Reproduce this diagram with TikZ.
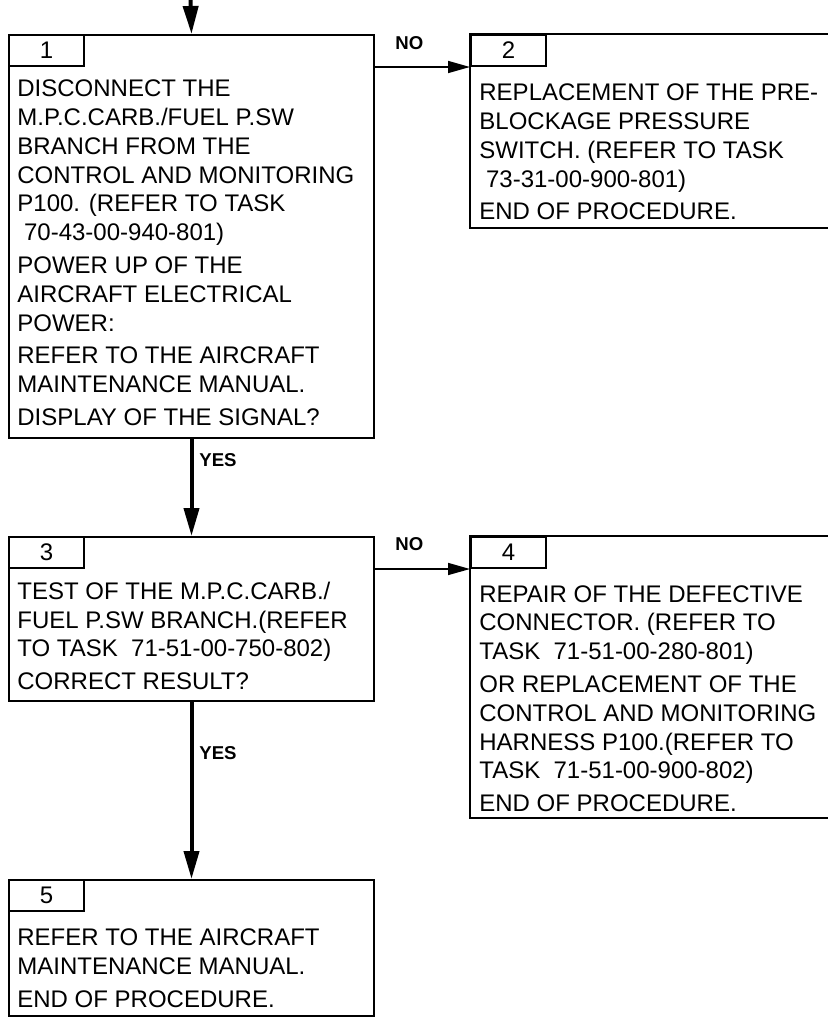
\documentclass[tikz,border=0pt]{standalone}
\usepackage{fontspec}
\setmainfont{Liberation Sans}
\usetikzlibrary{positioning, arrows.meta, calc}

\begin{document}
\begin{tikzpicture}[
    x=0.5pt, y=-0.5pt,
    box/.style={rectangle, draw, line width=1pt, anchor=north west, inner sep=0pt},
    openbox/.style={rectangle, anchor=north west, inner sep=0pt},
    tab/.style={rectangle, draw, line width=1pt, anchor=north west, minimum width=37.5pt, minimum height=15.5pt, inner sep=0pt, font=\fontsize{12}{14.4}\selectfont},
    txt/.style={anchor=north west, align=left, inner sep=0pt, font=\fontsize{12}{14.4}\selectfont},
    lbl/.style={anchor=west, inner sep=0pt, font=\fontsize{9.3}{10}\selectfont\bfseries},
    yesarrow/.style={line width=2pt, -{Triangle[length=14pt, width=7.5pt]}},
    noarrow/.style={line width=0.8pt, -{Triangle[length=11pt, width=6pt]}}
]
    \useasboundingbox (0,0) rectangle (827,1017);

    % Boxes
    \node[box, minimum width=182.5pt, minimum height=201.5pt] (b1) at (8,34) {};
    \node[openbox, minimum width=182pt, minimum height=96.5pt] (b2) at (470,34) {};
    \node[box, minimum width=182.5pt, minimum height=82pt] (b3) at (8,536) {};
    \node[openbox, minimum width=182pt, minimum height=140.5pt] (b4) at (470,536) {};
    \node[box, minimum width=182.5pt, minimum height=68pt] (b5) at (8,879) {};
    \draw[line width=1pt] (b2.north east) -- (b2.north west) -- (b2.south west) -- (b2.south east);
    \draw[line width=1pt] (b4.north east) -- (b4.north west) -- (b4.south west) -- (b4.south east);

    % Step numbers
    \node[tab] (t1) at (b1.north west) {1};
    \node[tab] (t2) at (b2.north west) {2};
    \node[tab] (t3) at (b3.north west) {3};
    \node[tab] (t4) at (b4.north west) {4};
    \node[tab] (t5) at (b5.north west) {5};

    % Texts
    \node[txt] (x1) at (17,79.5) {DISCONNECT THE\\ M.P.C.CARB./FUEL P.SW\\ BRANCH FROM THE\\ CONTROL AND MONITORING\\ P100. (REFER TO TASK\\ \hspace*{.28em}70-43-00-940-801)\\[2pt] POWER UP OF THE\\ AIRCRAFT ELECTRICAL\\ POWER:\\[2pt] REFER TO THE AIRCRAFT\\ MAINTENANCE MANUAL.\\[2pt] DISPLAY OF THE SIGNAL?};
    \node[txt] (x2) at (479,83.5) {REPLACEMENT OF THE PRE-\\ BLOCKAGE PRESSURE\\ SWITCH. (REFER TO TASK\\ \hspace*{.28em}73-31-00-900-801)\\[2pt] END OF PROCEDURE.};
    \node[txt] (x3) at (17,581.5) {TEST OF THE M.P.C.CARB./\\ FUEL P.SW BRANCH.(REFER\\ TO TASK\ \ 71-51-00-750-802)\\[2pt] CORRECT RESULT?};
    \node[txt] (x4) at (479,585) {REPAIR OF THE DEFECTIVE\\ CONNECTOR. (REFER TO\\ TASK\ \ 71-51-00-280-801)\\[2pt] OR REPLACEMENT OF THE\\ CONTROL AND MONITORING\\ HARNESS P100.(REFER TO\\ TASK\ \ 71-51-00-900-802)\\[2pt] END OF PROCEDURE.};
    \node[txt] (x5) at (17,928.5) {REFER TO THE AIRCRAFT\\ MAINTENANCE MANUAL.\\[2pt] END OF PROCEDURE.};

    % Labels
    \node[lbl] (no1) at (395,43) {NO};
    \node[lbl] (no2) at (395,544) {NO};
    \node[lbl] (yes1) at (199,460) {YES};
    \node[lbl] (yes2) at (199,753) {YES};

    % Connections
    \coordinate (start) at (190.5,0);
    \draw[yesarrow] (start) -- (b1.north);
    \draw[yesarrow] (b1.south) -- (b3.north);
    \draw[yesarrow] (b3.south) -- (b5.north);
    \draw[noarrow] (t1.south -| b1.east) -- (t2.south west);
    \draw[noarrow] (t3.south -| b3.east) -- (t4.south west);
\end{tikzpicture}
\end{document}
